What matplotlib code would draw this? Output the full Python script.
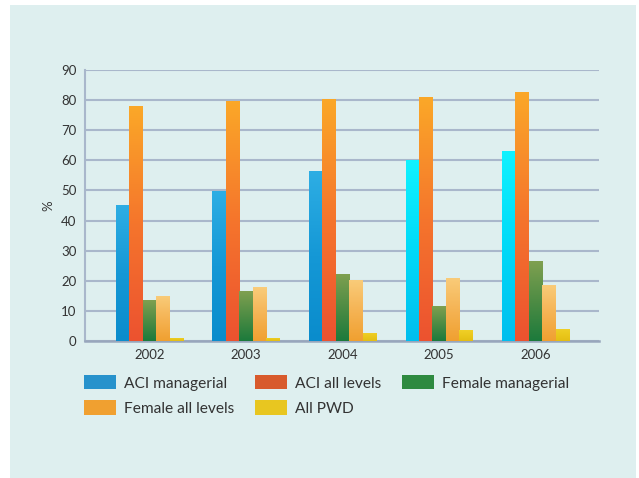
import numpy as np
import matplotlib
matplotlib.use("Agg")
import matplotlib.pyplot as plt
from matplotlib.colors import LinearSegmentedColormap
from matplotlib.patches import Rectangle, Patch

years = ["2002", "2003", "2004", "2005", "2006"]
aci_managerial = [45.2, 49.8, 56.5, 60.2, 63.0]
aci_all_levels = [78.0, 79.8, 80.4, 81.0, 82.8]
female_managerial = [13.6, 16.6, 22.3, 11.6, 26.5]
female_all_levels = [15.0, 17.9, 20.3, 21.0, 18.6]
all_pwd = [1.1, 1.1, 2.8, 3.6, 4.0]

series_names = ["ACI managerial", "ACI all levels", "Female managerial",
                "Female all levels", "All PWD"]
series_values = [aci_managerial, aci_all_levels, female_managerial,
                 female_all_levels, all_pwd]

# vertical gradients (bottom colour, middle colour, top colour)
gradients = [
    ["#0A8CCC", "#1598D6", "#2EAEE4"],
    ["#EC5230", "#F5752C", "#FBA828"],
    ["#1C7A3C", "#4E8C44", "#7FA050"],
    ["#F0A030", "#F5B455", "#F9CC7A"],
    ["#E4BE14", "#EAC81C", "#F0D028"],
]
# the later managerial bars are a brighter cyan
cyan_gradient = ["#00BEEE", "#00DAF8", "#10F2FF"]
legend_colors = ["#2792CC", "#D85A2C", "#2E8A40", "#F0A030", "#E8C620"]

BG = "#DEEFEF"
GRID = "#A9B7CB"
TEXT = "#333333"

plt.rcParams["font.family"] = ["Lato", "DejaVu Sans"]

fig = plt.figure(figsize=(6.39, 4.78), dpi=100)
fig.patch.set_facecolor("white")
fig.add_artist(Rectangle((10 / 639, 0), 626 / 639, 473 / 478,
                         transform=fig.transFigure, facecolor=BG,
                         edgecolor="none", zorder=-10))

ax = fig.add_axes([85 / 639, 137 / 478, 514 / 639, 271 / 478])
ax.set_facecolor("none")

x = np.arange(len(years))
width = 0.139
offsets = (np.arange(len(series_names)) - 2) * width

grad = np.linspace(0, 1, 256).reshape(-1, 1)
for i, (name, vals) in enumerate(zip(series_names, series_values)):
    bars = ax.bar(x + offsets[i], vals, width, color="none",
                  edgecolor="none", zorder=3, label=name)
    for j, b in enumerate(bars):
        cols = gradients[i]
        if i == 0 and j >= 3:
            cols = cyan_gradient
        cmap = LinearSegmentedColormap.from_list(f"g{i}{j}", cols)
        x0 = b.get_x()
        h = b.get_height()
        im = ax.imshow(grad, cmap=cmap, origin="lower", aspect="auto",
                       extent=(x0, x0 + b.get_width(), 0, h), zorder=3,
                       interpolation="bilinear")
        im.set_clip_path(b)

ax.set_xlim(-0.668, 4.657)
ax.set_ylim(0, 90)
ax.set_yticks(np.arange(0, 91, 10))
ax.set_xticks(x)
ax.set_xticklabels(years)
ax.yaxis.grid(True, color=GRID, linewidth=1.5, zorder=1)
ax.set_axisbelow(True)
for s in ["top", "right"]:
    ax.spines[s].set_visible(False)
ax.spines["left"].set_color(GRID)
ax.spines["left"].set_linewidth(1.5)
ax.spines["bottom"].set_color("#98A6BC")
ax.spines["bottom"].set_linewidth(1.8)
ax.tick_params(axis="both", length=0, labelsize=9.5, colors=TEXT)
ax.tick_params(axis="y", pad=6)
ax.tick_params(axis="x", pad=6)
ax.set_ylabel("%", fontsize=9.5, color=TEXT, labelpad=5)

handles = [Patch(facecolor=c, edgecolor="none") for c in legend_colors]
order = [0, 3, 1, 4, 2]
leg = fig.legend([handles[k] for k in order],
                 [series_names[k] for k in order],
                 ncol=3, loc="upper left",
                 bbox_to_anchor=(84 / 639, 1 - 375 / 478),
                 frameon=False, fontsize=11.2, labelcolor=TEXT,
                 handlelength=2.05, handleheight=1.05, handletextpad=0.5,
                 columnspacing=1.35, labelspacing=0.62, borderaxespad=0,
                 borderpad=0)

fig.savefig("out.png", dpi=100, facecolor=fig.get_facecolor())
